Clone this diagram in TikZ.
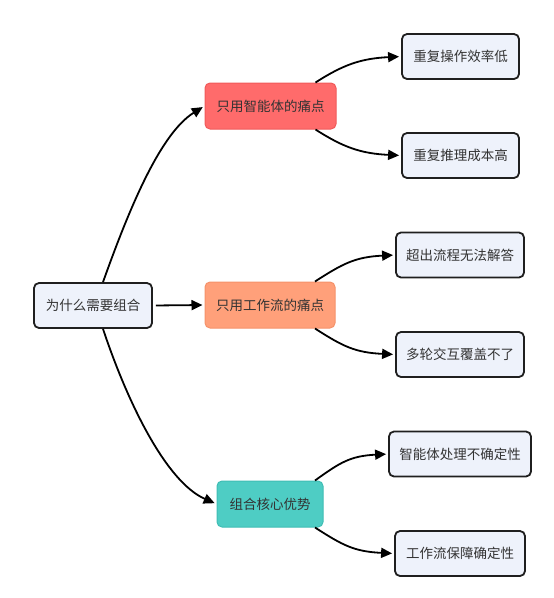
\documentclass[tikz,border=0pt]{standalone}
\usepackage{fontspec}
\setmainfont{Noto Sans CJK SC}
\usetikzlibrary{arrows.meta}
\definecolor{leaffill}{HTML}{EEF2FB}
\definecolor{leafdraw}{HTML}{1F1F1F}
\definecolor{redfill}{HTML}{FF6B6B}
\definecolor{reddraw}{HTML}{F05A5A}
\definecolor{orgfill}{HTML}{FFA07A}
\definecolor{orgdraw}{HTML}{F5926A}
\definecolor{tealfill}{HTML}{4ECDC4}
\definecolor{tealdraw}{HTML}{3FBDB4}
\definecolor{txt}{HTML}{333333}
\tikzset{
  base/.style={rounded corners=5pt, align=center, text=txt, inner sep=0pt,
    font=\fontsize{13.5pt}{16pt}\selectfont},
  leaf/.style={base, fill=leaffill, draw=leafdraw, line width=1.8pt, minimum height=45pt},
  redbox/.style={base, fill=redfill, draw=reddraw, line width=1pt, minimum height=46pt},
  orgbox/.style={base, fill=orgfill, draw=orgdraw, line width=1pt, minimum height=46pt},
  tealbox/.style={base, fill=tealfill, draw=tealdraw, line width=1pt, minimum height=46pt},
  arr/.style={line width=1.8pt, -{Triangle[length=11pt,width=10pt]}, shorten >=2pt}
}
\begin{document}
\begin{tikzpicture}[x=1pt,y=-1pt]
\useasboundingbox (0,0) rectangle (554,598);
\node[leaf, minimum width=118pt] (root) at (93,305.5) {为什么需要组合};
\node[redbox, minimum width=131pt] (p1) at (270.5,106) {只用智能体的痛点};
\node[orgbox, minimum width=130pt] (p2) at (270,305) {只用工作流的痛点};
\node[tealbox, minimum width=106pt] (p3) at (270,504) {组合核心优势};
\node[leaf, minimum width=117pt] (a1) at (460.5,56.5) {重复操作效率低};
\node[leaf, minimum width=117pt] (a2) at (460.5,155.5) {重复推理成本高};
\node[leaf, minimum width=128pt] (b1) at (460,255) {超出流程无法解答};
\node[leaf, minimum width=128pt] (b2) at (460,354.5) {多轮交互覆盖不了};
\node[leaf, minimum width=142pt] (c1) at (460,454) {智能体处理不确定性};
\node[leaf, minimum width=130pt] (c2) at (460,553.5) {工作流保障确定性};
% root to parents
\draw[arr] ([xshift=10pt]root.north) .. controls +(25,-70) and +(-45,28) .. (p1.west);
\draw[arr, shorten <=3pt] (root.east) -- (p2.west);
\draw[arr] ([xshift=10pt]root.south) .. controls +(25,75) and +(-50,-22) .. (p3.west);
% parents to leaves
\draw[arr] ([xshift=45pt]p1.north) .. controls +(28,-18) and +(-40,2) .. (a1.west);
\draw[arr] ([xshift=45pt]p1.south) .. controls +(28,18) and +(-40,-2) .. (a2.west);
\draw[arr] ([xshift=45pt]p2.north) .. controls +(28,-18) and +(-40,2) .. (b1.west);
\draw[arr] ([xshift=45pt]p2.south) .. controls +(28,18) and +(-40,-2) .. (b2.west);
\draw[arr] ([xshift=45pt]p3.north) .. controls +(25,-18) and +(-38,2) .. (c1.west);
\draw[arr] ([xshift=45pt]p3.south) .. controls +(28,18) and +(-40,-2) .. (c2.west);
\end{tikzpicture}
\end{document}
